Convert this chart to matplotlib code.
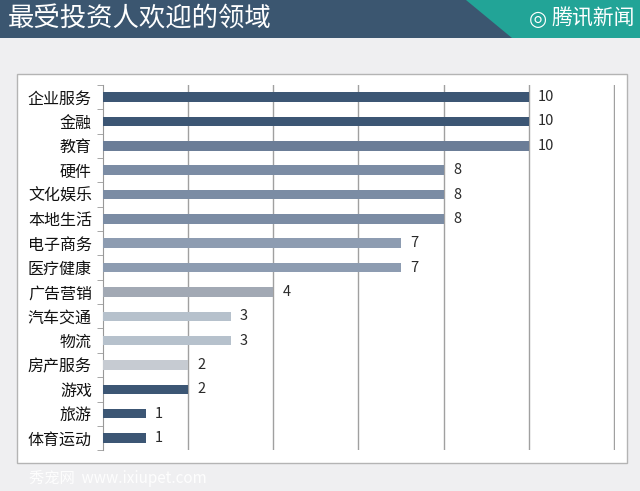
import matplotlib
matplotlib.use('Agg')
import matplotlib.pyplot as plt
from matplotlib.patches import Rectangle, Polygon
from matplotlib.ticker import FixedLocator

plt.rcParams['font.family'] = ['Noto Sans CJK SC', 'DejaVu Sans']

TITLE = '最受投资人欢迎的领域'
categories = ['企业服务', '金融', '教育', '硬件', '文化娱乐', '本地生活', '电子商务',
              '医疗健康', '广告营销', '汽车交通', '物流', '房产服务', '游戏', '旅游', '体育运动']
values = [10, 10, 10, 8, 8, 8, 7, 7, 4, 3, 3, 2, 2, 1, 1]
bar_colors = ['#3c5674', '#3c5674', '#6b7d97', '#7b8ca4', '#7b8ca4', '#7b8ca4', '#8d9cb1',
              '#8d9cb1', '#a2a9b4', '#b6c1cc', '#b6c1cc', '#c6cbd2', '#3c5674', '#3c5674', '#3c5674']

fig = plt.figure(figsize=(6.4, 4.91), dpi=100)
fig.patch.set_facecolor('#efeff1')

# header band
fig.patches.append(Rectangle((0, 0.9226), 1, 0.08, transform=fig.transFigure,
                             facecolor='#3b5670', edgecolor='none', zorder=-2))
fig.patches.append(Polygon([(0.728, 1.0), (1.0, 1.0), (1.0, 0.9226), (0.80, 0.9226)],
                           closed=True, transform=fig.transFigure,
                           facecolor='#22a497', edgecolor='none', zorder=-2))
fig.text(0.012, 0.962, TITLE, color='white', fontsize=19, va='center', ha='left')
fig.text(0.84, 0.962, '◎', color='white', fontsize=15, va='center', ha='center',
         family=['DejaVu Sans'])
fig.text(0.862, 0.962, '腾讯新闻', color='white', fontsize=15, va='center', ha='left',
         style='italic')

# white panel
fig.patches.append(Rectangle((0.0266, 0.057), 0.953, 0.792, transform=fig.transFigure,
                             facecolor='white', edgecolor='#b4b4b4', linewidth=1, zorder=-2))

fig.text(0.045, 0.025, '秀宠网  www.ixiupet.com', color='white', fontsize=11,
         va='center', ha='left', alpha=0.9)

ax = fig.add_axes([0.161, 0.083, 0.8, 0.744])
ax.set_zorder(2)
ax.set_facecolor('none')
y = list(range(len(categories)))
ax.barh(y, values, height=0.39, color=bar_colors, zorder=3)
for yi, v in zip(y, values):
    ax.text(v + 0.22, yi, str(v), va='center', ha='left', fontsize=10.5, color='#2a2a2a')

ax.set_xlim(0, 12.03)
ax.set_ylim(len(categories) - 0.5, -0.5)
ax.set_yticks(y)
ax.set_yticklabels(categories, fontsize=11.5, color='#111111')
ax.yaxis.set_minor_locator(FixedLocator([i - 0.5 for i in range(len(categories) + 1)]))
ax.tick_params(axis='y', which='major', length=0, pad=8)
ax.tick_params(axis='y', which='minor', length=4, color='#999999', direction='out')
ax.set_xticks([2, 4, 6, 8, 10, 12])
ax.tick_params(axis='x', length=0, labelbottom=False)
ax.grid(axis='x', color='#a0a0a0', linewidth=1, zorder=0)
for s in ['top', 'right', 'bottom']:
    ax.spines[s].set_visible(False)
ax.spines['left'].set_color('#999999')

fig.savefig('out.png', dpi=100, facecolor=fig.get_facecolor())
